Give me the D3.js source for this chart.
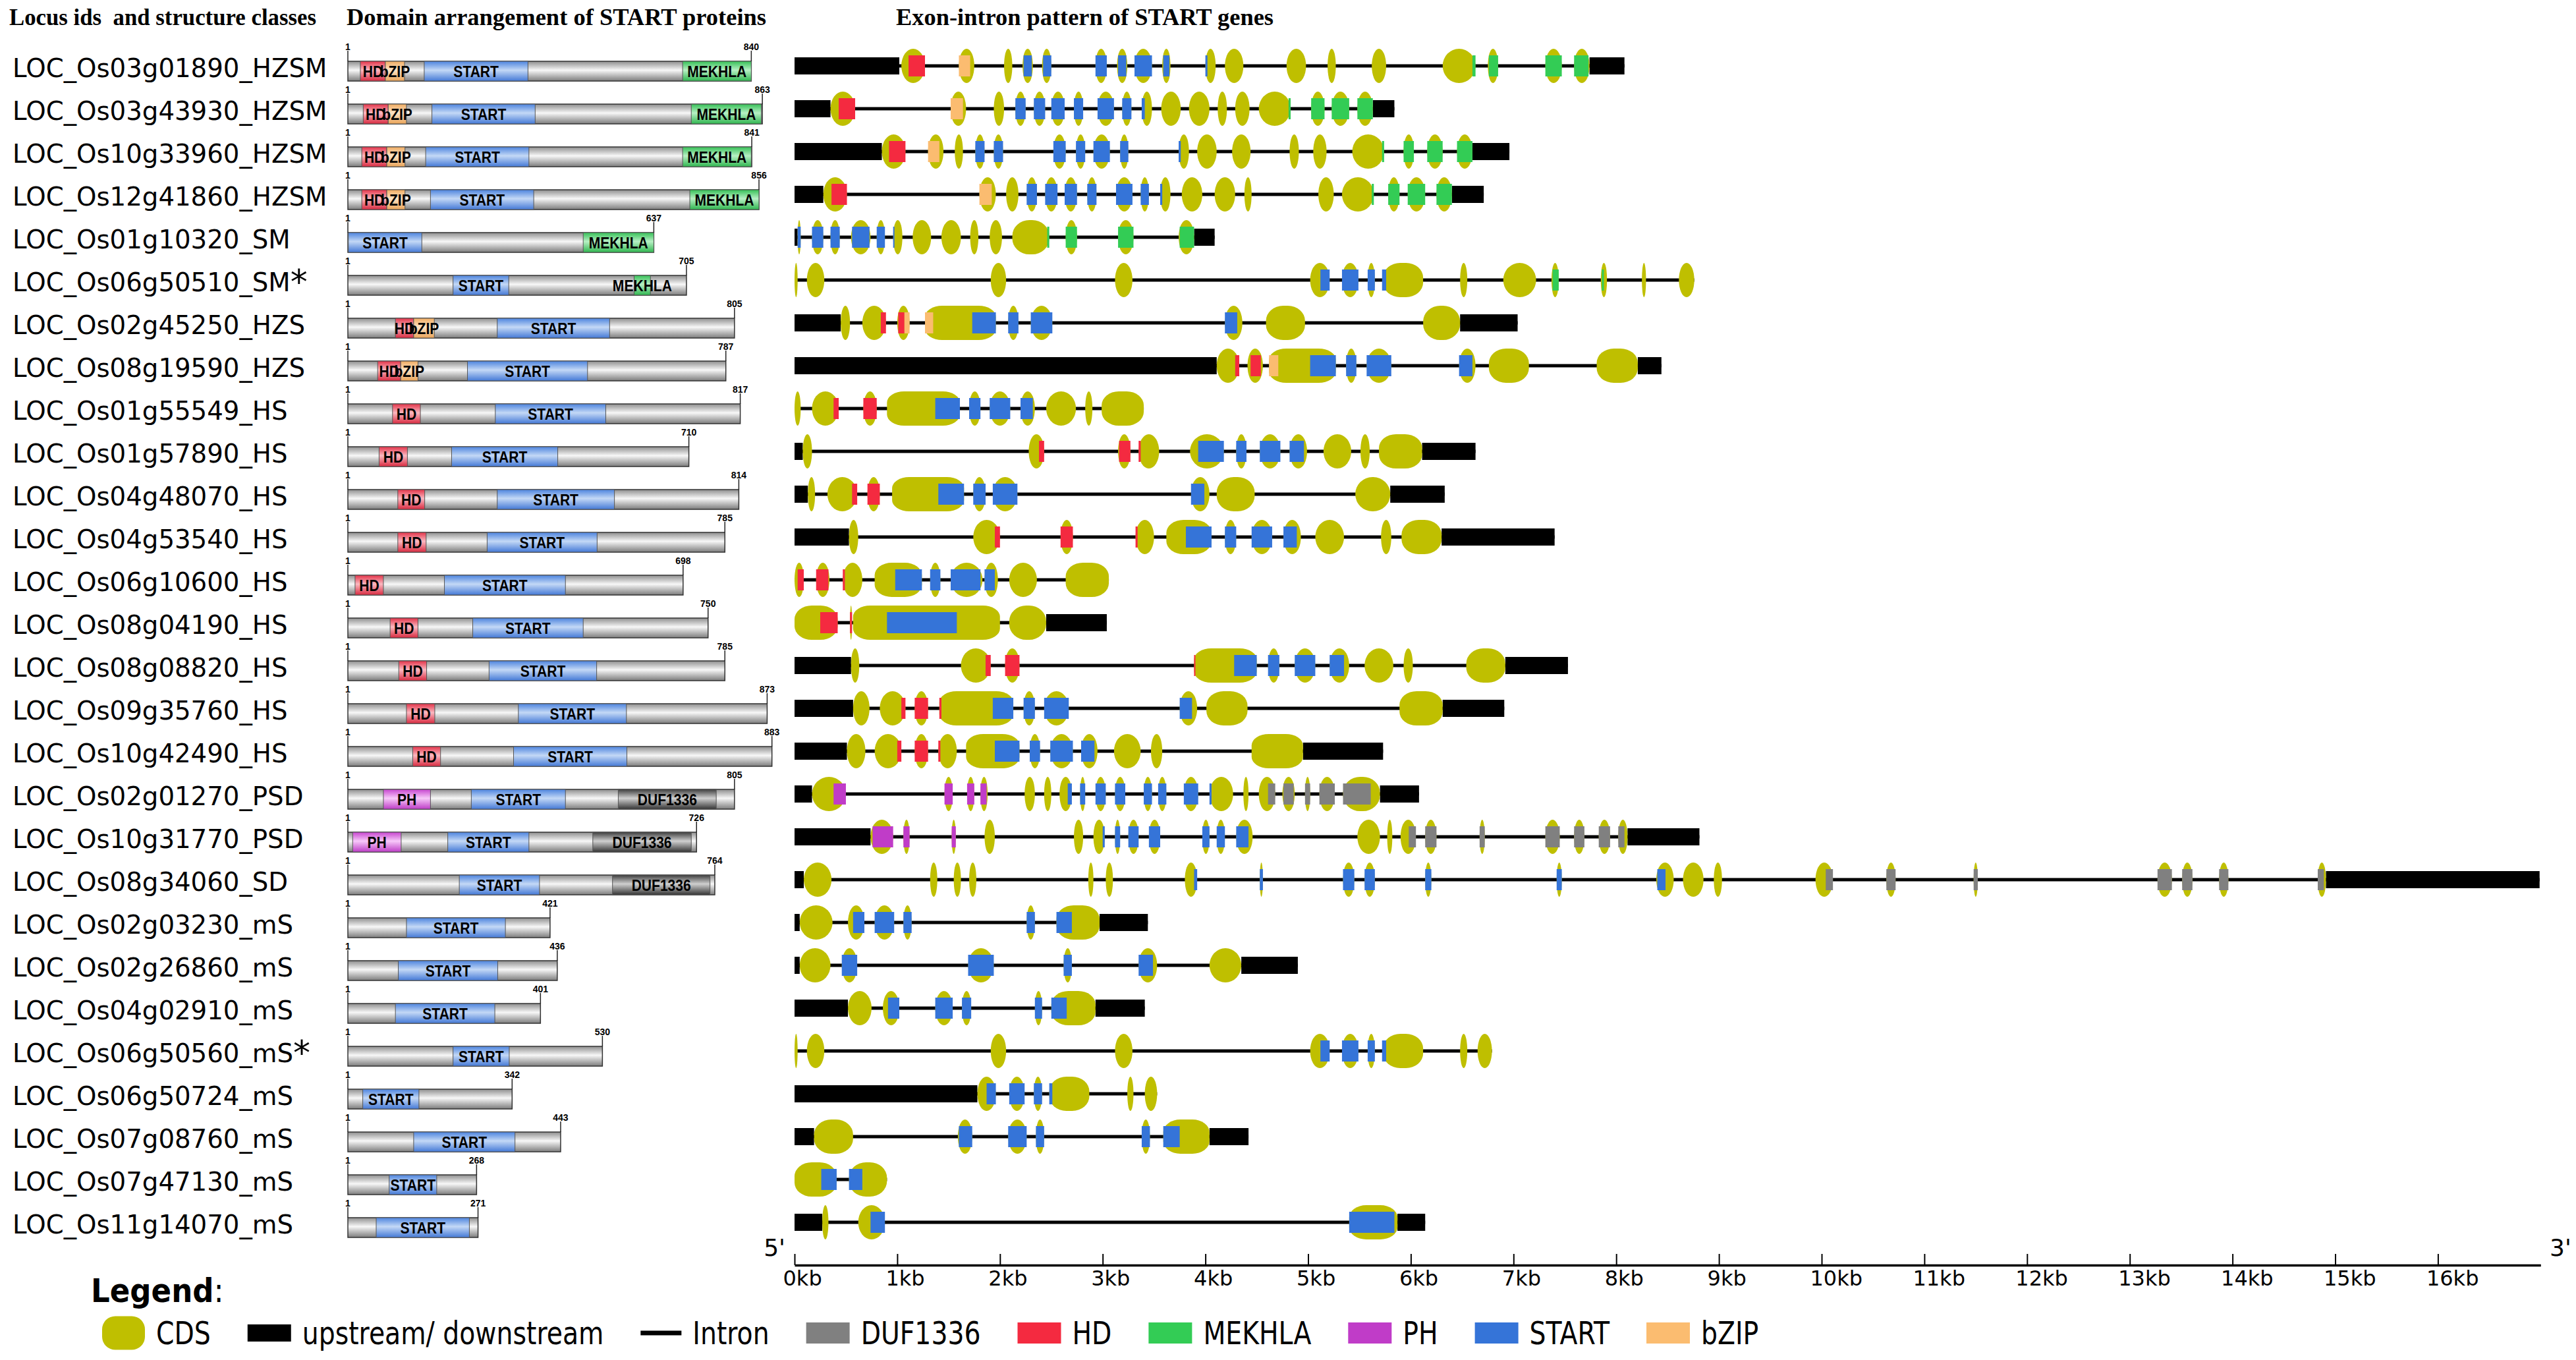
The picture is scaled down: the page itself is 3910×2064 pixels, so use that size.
<!DOCTYPE html>
<html>
<head>
<meta charset="utf-8">
<script src="https://cdn.jsdelivr.net/npm/d3@7"></script>
<style>
  body { margin: 0; background: #fff; }
</style>
</head>
<body>
<svg id="chart"></svg>
<script>
const W = 3910, H = 2064;

// ---- data ----
const locusIds = [
  "LOC_Os03g01890", "LOC_Os03g43930", "LOC_Os10g33960", "LOC_Os12g41860",
  "LOC_Os01g10320", "LOC_Os06g50510", "LOC_Os02g45250", "LOC_Os08g19590",
  "LOC_Os01g55549", "LOC_Os01g57890", "LOC_Os04g48070", "LOC_Os04g53540",
  "LOC_Os06g10600", "LOC_Os08g04190", "LOC_Os08g08820", "LOC_Os09g35760",
  "LOC_Os10g42490", "LOC_Os02g01270", "LOC_Os10g31770", "LOC_Os08g34060",
  "LOC_Os02g03230", "LOC_Os02g26860", "LOC_Os04g02910", "LOC_Os06g50560",
  "LOC_Os06g50724", "LOC_Os07g08760", "LOC_Os07g47130", "LOC_Os11g14070"
];
const structureClasses = [
  "HZSM", "HZSM", "HZSM", "HZSM", "SM", "SM", "HZS", "HZS",
  "HS", "HS", "HS", "HS", "HS", "HS", "HS", "HS", "HS",
  "PSD", "PSD", "SD", "mS", "mS", "mS", "mS", "mS", "mS", "mS", "mS"
];
const starred = ["LOC_Os06g50510", "LOC_Os06g50560"];

// protein length (aa)
const proteinLengths = [840, 863, 841, 856, 637, 705, 805, 787, 817, 710, 814, 785, 698, 750,
  785, 873, 883, 805, 726, 764, 421, 436, 401, 530, 342, 443, 268, 271];

// protein domains [type, from aa, to aa]
const proteinDomains = [
  [["HD", 26, 78], ["bZIP", 78, 118], ["START", 159, 375], ["MEKHLA", 697, 840]],
  [["HD", 32, 84], ["bZIP", 84, 122], ["START", 175, 390], ["MEKHLA", 715, 861]],
  [["HD", 29, 81], ["bZIP", 81, 119], ["START", 162, 377], ["MEKHLA", 697, 840]],
  [["HD", 29, 81], ["bZIP", 81, 119], ["START", 172, 387], ["MEKHLA", 712, 856]],
  [["START", 1, 154], ["MEKHLA", 490, 637]],
  [["START", 219, 335], ["MEKHLA", 596, 630]],
  [["HD", 99, 137], ["bZIP", 137, 180], ["START", 311, 545]],
  [["HD", 62, 110], ["bZIP", 110, 146], ["START", 249, 499]],
  [["HD", 93, 151], ["START", 307, 537]],
  [["HD", 65, 124], ["START", 216, 437]],
  [["HD", 104, 160], ["START", 311, 555]],
  [["HD", 104, 163], ["START", 290, 519]],
  [["HD", 15, 74], ["START", 201, 453]],
  [["HD", 88, 146], ["START", 260, 490]],
  [["HD", 106, 164], ["START", 294, 518]],
  [["HD", 122, 181], ["START", 355, 580]],
  [["HD", 135, 193], ["START", 345, 581]],
  [["PH", 74, 172], ["START", 257, 453], ["DUF1336", 563, 767]],
  [["PH", 10, 111], ["START", 208, 377], ["DUF1336", 510, 715]],
  [["START", 232, 399], ["DUF1336", 551, 754]],
  [["START", 122, 328]],
  [["START", 105, 312]],
  [["START", 99, 306]],
  [["START", 219, 336]],
  [["START", 31, 148]],
  [["START", 137, 348]],
  [["START", 86, 185]],
  [["START", 59, 253]]
];

// gene structure in kb: upstream/downstream blocks
const geneUTRs = [
  [[0, 1.02], [7.74, 8.08]],
  [[0, 0.35], [5.63, 5.84]],
  [[0, 0.85], [6.60, 6.96]],
  [[0, 0.28], [6.40, 6.71]],
  [[0, 0.03], [3.89, 4.09]],
  [],
  [[0, 0.45], [6.48, 7.04]],
  [[0, 4.11], [8.21, 8.44]],
  [],
  [[0, 0.08], [6.11, 6.63]],
  [[0, 0.13], [5.80, 6.33]],
  [[0, 0.53], [6.30, 7.40]],
  [],
  [[2.45, 3.04]],
  [[0, 0.55], [6.92, 7.53]],
  [[0, 0.57], [6.31, 6.91]],
  [[0, 0.51], [4.95, 5.73]],
  [[0, 0.17], [5.70, 6.08]],
  [[0, 0.74], [8.11, 8.81]],
  [[0, 0.09], [14.91, 16.99]],
  [[0, 0.05], [2.97, 3.44]],
  [[0, 0.05], [4.35, 4.90]],
  [[0, 0.52], [2.93, 3.41]],
  [],
  [[0, 1.78]],
  [[0, 0.19], [4.04, 4.42]],
  [],
  [[0, 0.27], [5.87, 6.14]]
];

// CDS exons in kb
const geneExons = [
  [[1.04, 1.27], [1.60, 1.75], [2.04, 2.12], [2.22, 2.32], [2.41, 2.50], [2.93, 3.04], [3.14, 3.24], [3.31, 3.48], [3.58, 3.66], [4.00, 4.10], [4.19, 4.37], [4.79, 4.98], [5.19, 5.27], [5.62, 5.76], [6.31, 6.63], [6.75, 6.85], [7.31, 7.47], [7.59, 7.74]],
  [[0.35, 0.59], [1.52, 1.67], [1.94, 2.04], [2.15, 2.25], [2.33, 2.44], [2.50, 2.63], [2.72, 2.81], [2.95, 3.11], [3.19, 3.28], [3.38, 3.48], [3.57, 3.76], [3.84, 4.04], [4.12, 4.21], [4.29, 4.43], [4.52, 4.83], [5.03, 5.16], [5.23, 5.40], [5.48, 5.63]],
  [[0.85, 1.08], [1.30, 1.45], [1.56, 1.64], [1.76, 1.85], [1.94, 2.03], [2.52, 2.64], [2.74, 2.83], [2.91, 3.07], [3.17, 3.25], [3.74, 3.84], [3.92, 4.11], [4.26, 4.44], [4.82, 4.91], [5.05, 5.18], [5.43, 5.74], [5.93, 6.03], [6.16, 6.31], [6.45, 6.60]],
  [[0.28, 0.51], [1.80, 1.96], [2.06, 2.18], [2.26, 2.36], [2.44, 2.56], [2.63, 2.75], [2.85, 2.94], [3.13, 3.29], [3.37, 3.45], [3.56, 3.66], [3.77, 3.97], [4.09, 4.29], [4.38, 4.45], [5.10, 5.25], [5.33, 5.64], [5.78, 5.89], [5.97, 6.14], [6.25, 6.40]],
  [[0.03, 0.06], [0.17, 0.28], [0.35, 0.44], [0.55, 0.74], [0.80, 0.88], [0.96, 1.05], [1.15, 1.33], [1.43, 1.62], [1.71, 1.79], [1.90, 2.02], [2.12, 2.48], [2.64, 2.75], [3.15, 3.30], [3.74, 3.89]],
  [[0, 0.03], [0.12, 0.29], [1.91, 2.06], [3.12, 3.29], [5.02, 5.21], [5.33, 5.49], [5.58, 5.65], [5.73, 6.12], [6.48, 6.55], [6.90, 7.22], [7.37, 7.44], [7.85, 7.91], [8.25, 8.29], [8.61, 8.76]],
  [[0.45, 0.54], [0.66, 0.89], [1.00, 1.12], [1.27, 1.96], [2.08, 2.18], [2.30, 2.51], [4.19, 4.36], [4.59, 4.97], [6.12, 6.48]],
  [[4.11, 4.33], [4.41, 4.56], [4.62, 5.27], [5.37, 5.47], [5.57, 5.81], [6.47, 6.63], [6.76, 7.15], [7.81, 8.21]],
  [[0, 0.06], [0.17, 0.43], [0.67, 0.80], [0.90, 1.61], [1.70, 1.81], [1.90, 2.10], [2.20, 2.34], [2.45, 2.74], [2.83, 2.90], [2.99, 3.40]],
  [[0.08, 0.17], [2.28, 2.43], [3.15, 3.27], [3.35, 3.55], [3.85, 4.18], [4.30, 4.40], [4.53, 4.73], [4.82, 4.99], [5.15, 5.42], [5.51, 5.60], [5.69, 6.11]],
  [[0.13, 0.20], [0.32, 0.61], [0.71, 0.83], [0.95, 1.65], [1.74, 1.86], [1.93, 2.17], [3.86, 4.04], [4.11, 4.48], [5.46, 5.80]],
  [[0.53, 0.62], [1.74, 2.00], [2.59, 2.71], [3.32, 3.50], [3.62, 4.06], [4.19, 4.30], [4.45, 4.65], [4.76, 4.93], [5.07, 5.35], [5.71, 5.81], [5.91, 6.30]],
  [[0, 0.09], [0.21, 0.34], [0.47, 0.66], [0.78, 1.24], [1.32, 1.42], [1.52, 1.83], [1.85, 1.98], [2.09, 2.36], [2.64, 3.06]],
  [[0, 0.42], [0.54, 0.56], [0.57, 2.00], [2.09, 2.45]],
  [[0.55, 0.63], [1.62, 1.91], [2.05, 2.19], [3.89, 4.50], [4.61, 4.72], [4.87, 5.07], [5.21, 5.40], [5.55, 5.83], [5.93, 6.02], [6.54, 6.92]],
  [[0.57, 0.73], [0.83, 1.08], [1.17, 1.30], [1.41, 2.13], [2.23, 2.34], [2.43, 2.67], [3.75, 3.92], [4.01, 4.41], [5.89, 6.31]],
  [[0.51, 0.69], [0.78, 1.04], [1.17, 1.30], [1.40, 1.58], [1.67, 2.19], [2.29, 2.39], [2.49, 2.71], [2.79, 2.95], [3.11, 3.37], [3.47, 3.58], [4.45, 4.95]],
  [[0.17, 0.50], [1.46, 1.54], [1.68, 1.75], [1.81, 1.88], [2.24, 2.34], [2.43, 2.50], [2.58, 2.70], [2.78, 2.83], [2.93, 3.03], [3.12, 3.22], [3.40, 3.48], [3.54, 3.62], [3.79, 3.93], [4.04, 4.27], [4.37, 4.42], [4.52, 4.68], [4.75, 4.87], [4.97, 5.02], [5.11, 5.26], [5.34, 5.70]],
  [[0.74, 0.96], [1.06, 1.12], [1.53, 1.57], [1.85, 1.95], [2.72, 2.81], [2.91, 3.02], [3.12, 3.17], [3.25, 3.35], [3.45, 3.56], [3.97, 4.04], [4.11, 4.19], [4.30, 4.46], [5.48, 5.70], [5.77, 5.82], [5.90, 6.05], [6.14, 6.25], [6.67, 6.72], [7.31, 7.45], [7.59, 7.69], [7.83, 7.94], [8.02, 8.11]],
  [[0.09, 0.36], [1.32, 1.39], [1.55, 1.62], [1.70, 1.77], [2.86, 2.91], [3.03, 3.10], [3.80, 3.92], [4.53, 4.56], [5.34, 5.45], [5.55, 5.65], [6.14, 6.20], [7.42, 7.47], [8.39, 8.56], [8.65, 8.85], [8.95, 9.03], [9.94, 10.11], [10.63, 10.72], [11.48, 11.52], [13.27, 13.41], [13.51, 13.61], [13.87, 13.96], [14.83, 14.91]],
  [[0.05, 0.37], [0.52, 0.68], [0.78, 0.97], [1.06, 1.14], [2.26, 2.34], [2.55, 2.97]],
  [[0.05, 0.35], [0.46, 0.61], [1.69, 1.94], [2.62, 2.70], [3.35, 3.53], [4.04, 4.35]],
  [[0.52, 0.75], [0.86, 1.02], [1.37, 1.54], [1.63, 1.72], [2.34, 2.41], [2.50, 2.93]],
  [[0, 0.03], [0.12, 0.29], [1.91, 2.06], [3.12, 3.29], [5.02, 5.21], [5.33, 5.49], [5.58, 5.65], [5.73, 6.12], [6.48, 6.55], [6.65, 6.79]],
  [[1.78, 1.96], [2.09, 2.24], [2.33, 2.41], [2.48, 2.87], [3.24, 3.30], [3.41, 3.53]],
  [[0.19, 0.57], [1.59, 1.73], [2.08, 2.26], [2.35, 2.43], [3.38, 3.46], [3.59, 4.04]],
  [[0, 0.41], [0.53, 0.90]],
  [[0.27, 0.33], [0.62, 0.88], [5.40, 5.87]]
];

// domain-coding parts of exons in kb [type, from, to]
const geneDomains = [
  [["HD", 1.11, 1.27], ["bZIP", 1.60, 1.71], ["START", 2.23, 2.31], ["START", 2.42, 2.50], ["START", 2.93, 3.04], ["START", 3.15, 3.23], ["START", 3.31, 3.48], ["START", 3.59, 3.65], ["START", 4.00, 4.02], ["MEKHLA", 6.60, 6.63], ["MEKHLA", 6.76, 6.85], ["MEKHLA", 7.31, 7.47], ["MEKHLA", 7.59, 7.73]],
  [["HD", 0.43, 0.59], ["bZIP", 1.52, 1.64], ["START", 2.15, 2.25], ["START", 2.33, 2.44], ["START", 2.50, 2.63], ["START", 2.72, 2.81], ["START", 2.95, 3.11], ["START", 3.19, 3.28], ["START", 3.38, 3.41], ["MEKHLA", 4.81, 4.83], ["MEKHLA", 5.03, 5.16], ["MEKHLA", 5.23, 5.40], ["MEKHLA", 5.48, 5.63]],
  [["HD", 0.92, 1.08], ["bZIP", 1.30, 1.41], ["START", 1.76, 1.85], ["START", 1.94, 2.03], ["START", 2.52, 2.64], ["START", 2.74, 2.83], ["START", 2.91, 3.07], ["START", 3.17, 3.25], ["START", 3.74, 3.76], ["MEKHLA", 5.72, 5.74], ["MEKHLA", 5.93, 6.03], ["MEKHLA", 6.16, 6.31], ["MEKHLA", 6.45, 6.60]],
  [["HD", 0.36, 0.51], ["bZIP", 1.80, 1.92], ["START", 2.26, 2.36], ["START", 2.44, 2.56], ["START", 2.63, 2.75], ["START", 2.85, 2.94], ["START", 3.13, 3.29], ["START", 3.37, 3.45], ["START", 3.56, 3.58], ["MEKHLA", 5.62, 5.64], ["MEKHLA", 5.78, 5.89], ["MEKHLA", 5.97, 6.14], ["MEKHLA", 6.25, 6.40]],
  [["START", 0.03, 0.06], ["START", 0.17, 0.28], ["START", 0.35, 0.44], ["START", 0.56, 0.73], ["START", 0.80, 0.88], ["START", 0.96, 0.97], ["MEKHLA", 2.46, 2.48], ["MEKHLA", 2.64, 2.75], ["MEKHLA", 3.15, 3.30], ["MEKHLA", 3.75, 3.89]],
  [["START", 5.12, 5.21], ["START", 5.33, 5.49], ["START", 5.58, 5.65], ["START", 5.72, 5.76], ["MEKHLA", 7.38, 7.44], ["MEKHLA", 7.86, 7.88]],
  [["HD", 0.84, 0.89], ["HD", 1.01, 1.07], ["bZIP", 1.07, 1.12], ["bZIP", 1.27, 1.35], ["START", 1.73, 1.96], ["START", 2.08, 2.18], ["START", 2.30, 2.51], ["START", 4.19, 4.31]],
  [["HD", 4.29, 4.33], ["HD", 4.44, 4.54], ["bZIP", 4.62, 4.71], ["START", 5.02, 5.27], ["START", 5.37, 5.47], ["START", 5.57, 5.81], ["START", 6.47, 6.60]],
  [["HD", 0.38, 0.43], ["HD", 0.67, 0.80], ["START", 1.37, 1.61], ["START", 1.70, 1.81], ["START", 1.90, 2.10], ["START", 2.20, 2.32]],
  [["HD", 2.38, 2.43], ["HD", 3.16, 3.27], ["HD", 3.35, 3.37], ["START", 3.93, 4.18], ["START", 4.30, 4.40], ["START", 4.53, 4.73], ["START", 4.82, 4.96]],
  [["HD", 0.56, 0.61], ["HD", 0.71, 0.83], ["START", 1.40, 1.65], ["START", 1.74, 1.86], ["START", 1.93, 2.17], ["START", 3.86, 3.99]],
  [["HD", 1.95, 2.00], ["HD", 2.59, 2.71], ["HD", 3.32, 3.34], ["START", 3.81, 4.06], ["START", 4.19, 4.30], ["START", 4.45, 4.65], ["START", 4.76, 4.89]],
  [["HD", 0.03, 0.09], ["HD", 0.21, 0.33], ["HD", 0.47, 0.49], ["START", 0.98, 1.24], ["START", 1.32, 1.42], ["START", 1.52, 1.81], ["START", 1.85, 1.95]],
  [["HD", 0.25, 0.42], ["HD", 0.54, 0.56], ["START", 0.90, 1.58]],
  [["HD", 1.86, 1.91], ["HD", 2.05, 2.19], ["HD", 3.89, 3.90], ["START", 4.28, 4.50], ["START", 4.61, 4.72], ["START", 4.87, 5.07], ["START", 5.21, 5.35]],
  [["HD", 1.04, 1.08], ["HD", 1.17, 1.30], ["HD", 1.41, 1.43], ["START", 1.93, 2.13], ["START", 2.23, 2.34], ["START", 2.43, 2.67], ["START", 3.75, 3.87]],
  [["HD", 1.00, 1.04], ["HD", 1.17, 1.30], ["HD", 1.40, 1.42], ["START", 1.95, 2.19], ["START", 2.29, 2.39], ["START", 2.49, 2.71], ["START", 2.79, 2.92]],
  [["PH", 0.38, 0.50], ["PH", 1.46, 1.54], ["PH", 1.68, 1.75], ["PH", 1.81, 1.87], ["START", 2.66, 2.70], ["START", 2.78, 2.83], ["START", 2.93, 3.03], ["START", 3.12, 3.22], ["START", 3.40, 3.48], ["START", 3.54, 3.62], ["START", 3.79, 3.93], ["START", 4.04, 4.06], ["DUF1336", 4.61, 4.68], ["DUF1336", 4.76, 4.86], ["DUF1336", 4.97, 5.02], ["DUF1336", 5.11, 5.26], ["DUF1336", 5.34, 5.61]],
  [["PH", 0.76, 0.96], ["PH", 1.06, 1.12], ["PH", 1.53, 1.57], ["START", 3.00, 3.02], ["START", 3.12, 3.17], ["START", 3.25, 3.35], ["START", 3.45, 3.56], ["START", 3.97, 4.04], ["START", 4.11, 4.19], ["START", 4.30, 4.42], ["DUF1336", 5.98, 6.05], ["DUF1336", 6.14, 6.25], ["DUF1336", 6.67, 6.72], ["DUF1336", 7.31, 7.45], ["DUF1336", 7.59, 7.69], ["DUF1336", 7.83, 7.94], ["DUF1336", 8.02, 8.08]],
  [["START", 3.89, 3.92], ["START", 4.53, 4.56], ["START", 5.34, 5.45], ["START", 5.55, 5.65], ["START", 6.14, 6.20], ["START", 7.42, 7.47], ["START", 8.40, 8.48], ["DUF1336", 10.04, 10.11], ["DUF1336", 10.63, 10.72], ["DUF1336", 11.48, 11.52], ["DUF1336", 13.27, 13.41], ["DUF1336", 13.51, 13.61], ["DUF1336", 13.87, 13.96], ["DUF1336", 14.83, 14.89]],
  [["START", 0.57, 0.68], ["START", 0.78, 0.97], ["START", 1.06, 1.14], ["START", 2.26, 2.34], ["START", 2.55, 2.70]],
  [["START", 0.46, 0.61], ["START", 1.69, 1.94], ["START", 2.62, 2.70], ["START", 3.35, 3.49]],
  [["START", 0.91, 1.02], ["START", 1.37, 1.54], ["START", 1.63, 1.72], ["START", 2.34, 2.41], ["START", 2.50, 2.65]],
  [["START", 5.12, 5.21], ["START", 5.33, 5.49], ["START", 5.58, 5.65], ["START", 5.72, 5.76]],
  [["START", 1.87, 1.96], ["START", 2.09, 2.24], ["START", 2.33, 2.41], ["START", 2.48, 2.51]],
  [["START", 1.60, 1.73], ["START", 2.08, 2.26], ["START", 2.35, 2.43], ["START", 3.38, 3.46], ["START", 3.59, 3.75]],
  [["START", 0.26, 0.41], ["START", 0.53, 0.66]],
  [["START", 0.74, 0.88], ["START", 5.40, 5.84]]
];

const kbTicks = [0, 1, 2, 3, 4, 5, 6, 7, 8, 9, 10, 11, 12, 13, 14, 15, 16];
const legendItems = ["CDS", "upstream/ downstream", "Intron", "DUF1336", "HD", "MEKHLA", "PH", "START", "bZIP"];

// ---- styling ----
const cdsColor = "#bfbf00";
const geneColor = {
  HD: "#f42a40", bZIP: "#fbbc70", START: "#3574d8",
  MEKHLA: "#33cc55", PH: "#c03cc8", DUF1336: "#808080"
};
// [edge, centre, edge] for the shaded protein bars
const protShade = {
  bar: ["#8e8e8e", "#f7f7f7", "#7c7c7c"],
  HD: ["#e3344a", "#fbb8c0", "#d82a40"],
  bZIP: ["#f0ac62", "#fde3c4", "#eaa458"],
  START: ["#4d84de", "#c3d8f6", "#4479d6"],
  MEKHLA: ["#36c057", "#b7f0c4", "#2fb64f"],
  PH: ["#c746cf", "#f7c8f9", "#bd3cc6"],
  DUF1336: ["#3e3e3e", "#cfcfcf", "#353535"]
};

const svg = d3.select("#chart")
  .attr("width", W)
  .attr("height", H)
  .style("font-family", "'DejaVu Sans', sans-serif");
svg.append("rect").attr("width", W).attr("height", H).attr("fill", "#fff");

const defs = svg.append("defs");
Object.entries(protShade).forEach(([k, c]) => {
  const g = defs.append("linearGradient").attr("id", "pg-" + k)
    .attr("x1", 0).attr("y1", 0).attr("x2", 0).attr("y2", 1);
  g.append("stop").attr("offset", "0%").attr("stop-color", c[0]);
  g.append("stop").attr("offset", "45%").attr("stop-color", c[1]);
  g.append("stop").attr("offset", "100%").attr("stop-color", c[2]);
});

// ---- scales ----
const rows = d3.range(locusIds.length);
const yRow = d3.scaleLinear().domain([0, rows.length - 1]).range([100, 1855]);
const xProt = d3.scaleLinear().domain([0, 883]).range([528, 528 + 883 * 0.729]);
const xGene = d3.scaleLinear().domain([0, 17]).range([1206, 1206 + 17 * 155.9]);

// ---- panel titles ----
const titles = [
  ["Locus ids  and structure classes", 14, 466],
  ["Domain arrangement of START proteins", 526, 637],
  ["Exon-intron pattern of START genes", 1360, 573]
];
svg.selectAll("text.title")
  .data(titles)
  .enter().append("text")
  .attr("class", "title")
  .attr("x", d => d[1])
  .attr("y", 38)
  .attr("textLength", d => d[2])
  .attr("lengthAdjust", "spacingAndGlyphs")
  .style("white-space", "pre")
  .style("font-family", "'Liberation Serif', 'Times New Roman', serif")
  .style("font-weight", "bold")
  .style("font-size", "35px")
  .text(d => d[0]);

// ---- locus labels ----
const labels = svg.append("g").style("font-size", "38.7px");
rows.forEach(i => {
  const t = labels.append("text")
    .attr("x", 19)
    .attr("y", yRow(i) + 16.5)
    .text(locusIds[i] + "_" + structureClasses[i]);
  if (starred.includes(locusIds[i])) {
    t.append("tspan").attr("dy", 4).style("font-size", "52px").text("*");
  }
});

// ---- protein panel ----
const prot = svg.append("g").style("font-family", "'Liberation Sans', Arial, sans-serif");
rows.forEach(i => {
  const g = prot.append("g").attr("transform", `translate(0,${yRow(i) + 8})`);
  const len = proteinLengths[i];
  g.append("rect")
    .attr("x", xProt(0)).attr("y", -15)
    .attr("width", xProt(len) - xProt(0)).attr("height", 30)
    .attr("fill", "url(#pg-bar)")
    .attr("stroke", "#333").attr("stroke-width", 1.5);

  g.selectAll("rect.dom")
    .data(proteinDomains[i])
    .enter().append("rect")
    .attr("class", "dom")
    .attr("x", d => xProt(d[1])).attr("y", -15)
    .attr("width", d => xProt(d[2]) - xProt(d[1])).attr("height", 30)
    .attr("fill", d => `url(#pg-${d[0]})`)
    .attr("stroke", "#555").attr("stroke-width", 1);

  g.selectAll("text.dom")
    .data(proteinDomains[i])
    .enter().append("text")
    .attr("class", "dom")
    .attr("transform", d => `translate(${(xProt(d[1]) + xProt(d[2])) / 2},9) scale(0.86,1)`)
    .attr("text-anchor", "middle")
    .style("font-weight", "bold")
    .style("font-size", "24.5px")
    .text(d => d[0]);

  // position marks
  [1, len].forEach(p => {
    const xp = p === 1 ? xProt(0) : xProt(len);
    g.append("line")
      .attr("x1", xp).attr("x2", xp)
      .attr("y1", -31).attr("y2", -15)
      .attr("stroke", "#222").attr("stroke-width", 1.5);
    g.append("text")
      .attr("x", xp).attr("y", -32)
      .attr("text-anchor", "middle")
      .style("font-weight", "bold")
      .style("font-size", "14px")
      .text(p);
  });
});

// ---- gene panel ----
const genes = svg.append("g");
rows.forEach(i => {
  const g = genes.append("g").attr("transform", `translate(0,${yRow(i)})`);
  const parts = geneUTRs[i].concat(geneExons[i]);
  const gStart = d3.min(parts, d => d[0]);
  const gEnd = d3.max(parts, d => d[1]);

  g.append("line")
    .attr("x1", xGene(gStart)).attr("x2", xGene(gEnd))
    .attr("stroke", "#000").attr("stroke-width", 5);

  g.selectAll("rect.utr")
    .data(geneUTRs[i])
    .enter().append("rect")
    .attr("class", "utr")
    .attr("x", d => xGene(d[0])).attr("y", -13)
    .attr("width", d => xGene(d[1]) - xGene(d[0])).attr("height", 26)
    .attr("fill", "#000");

  g.selectAll("rect.cds")
    .data(geneExons[i])
    .enter().append("rect")
    .attr("class", "cds")
    .attr("x", d => xGene(d[0])).attr("y", -26)
    .attr("width", d => xGene(d[1]) - xGene(d[0])).attr("height", 52)
    .attr("rx", d => Math.min((xGene(d[1]) - xGene(d[0])) / 2, 26))
    .attr("ry", d => {
      const w = xGene(d[1]) - xGene(d[0]);
      return w <= 52 ? 26 : Math.max(17, 26 * 52 / w);
    })
    .attr("fill", cdsColor);

  g.selectAll("rect.dom")
    .data(geneDomains[i])
    .enter().append("rect")
    .attr("class", "dom")
    .attr("x", d => xGene(d[1])).attr("y", -16)
    .attr("width", d => Math.max(2, xGene(d[2]) - xGene(d[1]))).attr("height", 32)
    .attr("fill", d => geneColor[d[0]]);
});

// ---- kb axis ----
const axis = svg.append("g")
  .attr("transform", "translate(0,1920)")
  .call(d3.axisBottom(xGene)
    .tickValues(kbTicks)
    .tickSizeInner(-17)
    .tickSizeOuter(0)
    .tickPadding(8)
    .tickFormat(d => d + "kb"));
axis.select(".domain").attr("stroke", "#000").attr("stroke-width", 3.5);
axis.selectAll(".tick line").attr("stroke", "#000").attr("stroke-width", 2);
axis.selectAll(".tick text")
  .attr("text-anchor", "start")
  .attr("x", -18)
  .attr("fill", "#000")
  .style("font-family", "'DejaVu Sans', sans-serif")
  .style("font-size", "32px");

svg.append("text").attr("x", 1192).attr("y", 1906)
  .attr("text-anchor", "end").style("font-size", "36px").text("5'");
svg.append("text").attr("x", 3870).attr("y", 1906)
  .style("font-size", "36px").text("3'");

// ---- legend ----
const legendTitle = svg.append("text")
  .attr("transform", "translate(138,1976) scale(0.92,1)")
  .style("font-size", "49px");
legendTitle.append("tspan").style("font-weight", "bold").text("Legend");
legendTitle.append("tspan").text(":");

const legend = svg.append("g").style("font-size", "48px");
const legendScaleX = 0.82;
let lx = 155;
const ly = 2023;
legendItems.forEach(name => {
  const g = legend.append("g").attr("transform", `translate(${lx},${ly})`);
  let sw = 66;
  if (name === "CDS") {
    sw = 65;
    g.append("rect").attr("y", -25.5).attr("width", sw).attr("height", 51)
      .attr("rx", 20).attr("ry", 20).attr("fill", cdsColor);
  } else if (name === "upstream/ downstream") {
    g.append("rect").attr("y", -13).attr("width", sw).attr("height", 26).attr("fill", "#000");
  } else if (name === "Intron") {
    sw = 62;
    g.append("rect").attr("y", -3.5).attr("width", sw).attr("height", 7).attr("fill", "#000");
  } else {
    g.append("rect").attr("y", -16).attr("width", sw).attr("height", 32).attr("fill", geneColor[name]);
  }
  const t = g.append("text")
    .attr("transform", `translate(${sw + 17},17) scale(${legendScaleX},1)`)
    .text(name);
  lx += sw + 17 + t.node().getComputedTextLength() * legendScaleX + 56;
});
</script>
</body>
</html>
